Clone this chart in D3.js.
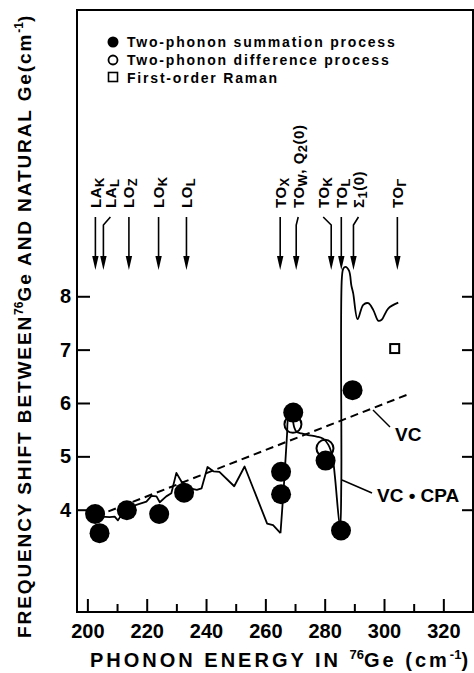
<!DOCTYPE html>
<html>
<head>
<meta charset="utf-8">
<script src="https://cdnjs.cloudflare.com/ajax/libs/d3/7.8.5/d3.min.js"></script>
<style>
  body { margin: 0; background: #fff; }
  svg { display: block; }
  text { font-family: "Liberation Sans", Arial, sans-serif; font-weight: bold; fill: #000; }
</style>
</head>
<body>
<div id="chart"></div>
<script>
// Set up SVG
let svgWidth = 474;
let svgHeight = 673;

// Plot frame (px)
let frame = { left: 77, top: 10, right: 473, bottom: 612 };

// Data
let xMajorTicks = [200, 220, 240, 260, 280, 300, 320];
let xMinorTicks = [210, 230, 250, 270, 290, 310];
let yTicks = [4, 5, 6, 7, 8];

// two-phonon summation process (filled)
let sumEnergy = [202.6, 204.1, 213.3, 224.2, 232.6, 265.3, 265.3, 269.4, 280.3, 285.5, 289.4];
let sumShift  = [3.92, 3.56, 3.99, 3.92, 4.32, 4.71, 4.29, 5.82, 4.92, 3.61, 6.24];

// two-phonon difference process (open)
let diffEnergy = [269.3, 280.1];
let diffShift  = [5.60, 5.15];

// first-order Raman (square)
let ramanEnergy = [303.6];
let ramanShift  = [7.02];

// VC (dashed)
let vcEnergy = [203.0, 307.6];
let vcShift  = [3.88, 6.15];

// VC + CPA, jagged part
let cpaRoughEnergy = [202.5, 204.6, 207.5, 209.2, 210.3, 212.0, 214.5, 216.5, 219.9, 221.6, 223.3, 224.4,
  226.6, 228.3, 230.0, 231.7, 234.6, 236.9, 238.5, 240.5, 242.5, 244.5, 249.5, 253.0, 260.6, 262.6, 265.1];
let cpaRoughShift = [3.92, 3.87, 3.86, 3.87, 3.80, 3.95, 4.05, 4.09, 4.15, 4.26, 4.25, 4.14,
  4.25, 4.31, 4.69, 4.53, 4.40, 4.37, 4.40, 4.80, 4.72, 4.71, 4.44, 4.81, 3.74, 3.71, 3.56];

// VC + CPA, smooth part
let cpaSmoothEnergy = [265.1, 266.3, 267.3, 267.8, 268.8, 269.7, 270.5, 272.2, 274.4, 277.3, 279.5, 281.2,
  282.6, 283.4, 285.2, 285.6, 285.8, 286.3, 287.0, 288.2, 289.0, 289.6, 291.1, 293.0, 294.7, 296.4,
  298.1, 299.2, 301.4, 304.8];
let cpaSmoothShift = [3.56, 4.5, 5.40, 5.72, 5.76, 5.55, 5.46, 5.43, 5.40, 5.37, 5.33, 5.22,
  5.00, 4.65, 3.65, 4.5, 8.35, 8.52, 8.55, 8.48, 8.20, 8.06, 7.57, 7.84, 7.87, 7.74,
  7.54, 7.56, 7.77, 7.88];

// Critical-point arrows
let arrowEnergy = [202.7, 205.4, 214.0, 224.0, 233.4, 265.0, 270.4, 282.2, 285.6, 289.7, 304.5];
let arrowLabels = [
  ['LA', 'K'], ['LA', 'L'], ['LO', 'Z'], ['LO', 'K'], ['LO', 'L'],
  ['TO', 'X'], ['TO', 'W', ', Q', '2', '(0)'], ['TO', 'K'], ['TO', 'L'], ['Σ', '1', '(0)'], ['TO', 'Γ']
];
let arrowLabelShift = [0, 7, 0, 0, 0, 0, 2, -8, 0, 5, 0];

// Scales
let xScale = d3.scaleLinear().domain([196.5, 330]).range([frame.left, frame.right]);
let yScale = d3.scaleLinear().domain([2.083, 13.365]).range([frame.bottom, frame.top]);

let svg = d3.select('#chart').append('svg')
  .attr('width', svgWidth)
  .attr('height', svgHeight);

// Frame
svg.append('rect')
  .attr('x', frame.left)
  .attr('y', frame.top)
  .attr('width', frame.right - frame.left)
  .attr('height', frame.bottom - frame.top)
  .attr('fill', 'none')
  .attr('stroke', '#000')
  .attr('stroke-width', 2);

// X axis, ticks pointing inward
let xAxis = svg.append('g')
  .attr('transform', `translate(0, ${frame.bottom})`)
  .call(d3.axisBottom(xScale).tickValues(xMajorTicks).tickSize(-13).tickPadding(12).tickFormat(d3.format('d')));
svg.append('g')
  .attr('transform', `translate(0, ${frame.bottom})`)
  .call(d3.axisBottom(xScale).tickValues(xMinorTicks).tickSize(-8).tickFormat(''));

// Y axis left and right
let yAxis = svg.append('g')
  .attr('transform', `translate(${frame.left}, 0)`)
  .call(d3.axisLeft(yScale).tickValues(yTicks).tickSize(-13).tickPadding(6).tickFormat(d3.format('d')));
svg.append('g')
  .attr('transform', `translate(${frame.right}, 0)`)
  .call(d3.axisRight(yScale).tickValues(yTicks).tickSize(-11).tickFormat(''));

svg.selectAll('.domain').remove();
svg.selectAll('.tick line').attr('stroke', '#000').attr('stroke-width', 2);
xAxis.selectAll('text').attr('font-size', '20px').attr('font-weight', 'normal')
  .style('font-family', '"Liberation Sans", Arial, sans-serif');
yAxis.selectAll('text').attr('font-size', '20px').attr('font-weight', 'normal')
  .style('font-family', '"Liberation Sans", Arial, sans-serif');

// Axis titles
let xTitle = svg.append('text')
  .attr('x', 90)
  .attr('y', 667)
  .attr('font-size', '20px')
  .attr('letter-spacing', '3px');
xTitle.append('tspan').text('PHONON ENERGY IN  ');
xTitle.append('tspan').attr('font-size', '13px').attr('letter-spacing', '0px').attr('dy', -8).text('76');
xTitle.append('tspan').attr('dy', 8).text('Ge (cm');
xTitle.append('tspan').attr('font-size', '13px').attr('letter-spacing', '0px').attr('dy', -8).text('-1');
xTitle.append('tspan').attr('dy', 8).text(')');

let yTitle = svg.append('text')
  .attr('transform', 'translate(31, 638) rotate(-90)')
  .attr('font-size', '19px')
  .attr('letter-spacing', '1.9px');
yTitle.append('tspan').text('FREQUENCY SHIFT BETWEEN');
yTitle.append('tspan').attr('font-size', '12px').attr('letter-spacing', '0px').attr('dy', -8).text('76');
yTitle.append('tspan').attr('dy', 8).text('Ge  AND NATURAL  Ge(cm');
yTitle.append('tspan').attr('font-size', '12px').attr('letter-spacing', '0px').attr('dy', -8).text('-1');
yTitle.append('tspan').attr('dy', 8).text(')');

// VC dashed line
let line = d3.line().x(d => xScale(d[0])).y(d => yScale(d[1]));
svg.append('path')
  .datum(d3.zip(vcEnergy, vcShift))
  .attr('d', line)
  .attr('fill', 'none')
  .attr('stroke', '#000')
  .attr('stroke-width', 2)
  .attr('stroke-dasharray', '8,5');

// VC + CPA curve
svg.append('path')
  .datum(d3.zip(cpaRoughEnergy, cpaRoughShift))
  .attr('d', line)
  .attr('fill', 'none')
  .attr('stroke', '#000')
  .attr('stroke-width', 1.8)
  .attr('stroke-linejoin', 'round');
svg.append('path')
  .datum(d3.zip(cpaSmoothEnergy, cpaSmoothShift))
  .attr('d', d3.line().curve(d3.curveCatmullRom.alpha(0.5)).x(d => xScale(d[0])).y(d => yScale(d[1])))
  .attr('fill', 'none')
  .attr('stroke', '#000')
  .attr('stroke-width', 1.8);

// Leader lines and curve labels
svg.append('line')
  .attr('x1', 373).attr('y1', 410).attr('x2', 390).attr('y2', 427)
  .attr('stroke', '#000').attr('stroke-width', 1.5);
svg.append('text').attr('x', 395).attr('y', 441).attr('font-size', '19px').attr('font-weight', 'normal').text('VC');
svg.append('line')
  .attr('x1', 342).attr('y1', 480).attr('x2', 372).attr('y2', 493)
  .attr('stroke', '#000').attr('stroke-width', 1.5);
svg.append('text').attr('x', 377).attr('y', 502).attr('font-size', '19px').attr('font-weight', 'normal').text('VC • CPA');

// Data points
svg.selectAll('.sum')
  .data(d3.zip(sumEnergy, sumShift))
  .enter()
  .append('circle')
  .attr('cx', d => xScale(d[0]))
  .attr('cy', d => yScale(d[1]))
  .attr('r', 10)
  .attr('fill', '#000');

svg.selectAll('.diff')
  .data(d3.zip(diffEnergy, diffShift))
  .enter()
  .append('circle')
  .attr('cx', d => xScale(d[0]))
  .attr('cy', d => yScale(d[1]))
  .attr('r', 8.5)
  .attr('fill', 'none')
  .attr('stroke', '#000')
  .attr('stroke-width', 2);

svg.selectAll('.raman')
  .data(d3.zip(ramanEnergy, ramanShift))
  .enter()
  .append('rect')
  .attr('x', d => xScale(d[0]) - 4.5)
  .attr('y', d => yScale(d[1]) - 4.5)
  .attr('width', 9)
  .attr('height', 9)
  .attr('fill', 'none')
  .attr('stroke', '#000')
  .attr('stroke-width', 2);

// Arrows
let arrowTop = 217, arrowTip = 270, kinkY = 225;
arrowEnergy.forEach(function(e, i) {
  let ax = xScale(e);
  let lx = ax + arrowLabelShift[i];
  svg.append('path')
    .attr('d', `M${lx},${arrowTop} L${ax},${kinkY} L${ax},${arrowTip - 12}`)
    .attr('fill', 'none')
    .attr('stroke', '#000')
    .attr('stroke-width', 1.6);
  svg.append('path')
    .attr('d', `M${ax - 3.2},${arrowTip - 14} L${ax + 3.2},${arrowTip - 14} L${ax},${arrowTip} Z`)
    .attr('fill', '#000');

  let label = svg.append('text')
    .attr('transform', `translate(${lx + 5.5}, 208) rotate(-90)`)
    .attr('font-size', '15px')
    .attr('letter-spacing', '0.5px');
  let parts = arrowLabels[i];
  parts.forEach(function(p, j) {
    let isSub = (p === 'K' || p === 'L' || p === 'Z' || p === 'X' || p === 'W' || p === 'Γ' || p === '1' || p === '2');
    let prevSub = j > 0 && label.node().lastChild && label.node().lastChild.getAttribute('data-sub') === '1';
    let t = label.append('tspan').text(p);
    if (isSub) {
      t.attr('font-size', '13px').attr('dy', 3).attr('data-sub', '1');
    } else if (prevSub) {
      t.attr('dy', -3);
    }
  });
});

// Legend
let legend = svg.append('g');
legend.append('circle').attr('cx', 113).attr('cy', 42).attr('r', 5.5).attr('fill', '#000');
legend.append('circle').attr('cx', 113).attr('cy', 60).attr('r', 4.5)
  .attr('fill', 'none').attr('stroke', '#000').attr('stroke-width', 1.8);
legend.append('rect').attr('x', 108.5).attr('y', 72.5).attr('width', 9).attr('height', 9)
  .attr('fill', 'none').attr('stroke', '#000').attr('stroke-width', 1.6);
let legendLabels = ['Two-phonon summation process', 'Two-phonon difference process', 'First-order Raman'];
legend.selectAll('.lt')
  .data(legendLabels)
  .enter()
  .append('text')
  .attr('x', 127)
  .attr('y', (d, i) => 47 + i * 18)
  .attr('font-size', '14px')
  .attr('letter-spacing', '1.8px')
  .text(d => d);
</script>
</body>
</html>
